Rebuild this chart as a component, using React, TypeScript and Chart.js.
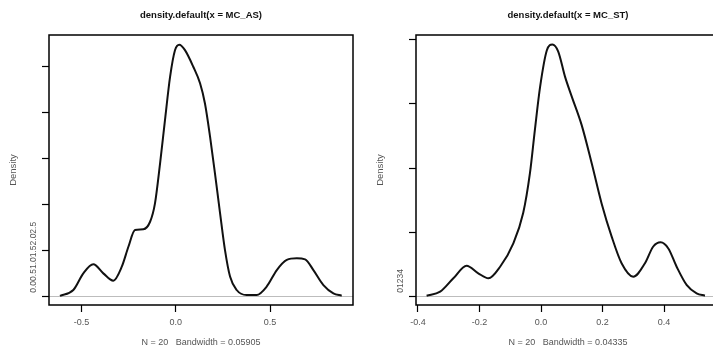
import React, { useEffect, useRef } from "react";
import { Chart, registerables } from "chart.js";

Chart.register(...registerables);

const FONT = '"Liberation Sans", Arial, Helvetica, sans-serif';

// ---- Panel 1: density of MC_AS ----
const asTitle = "density.default(x = MC_AS)";
const asXTitle = "N = 20   Bandwidth = 0.05905";
const asX = [-0.614, -0.543, -0.49, -0.437, -0.384, -0.331, -0.286, -0.251, -0.216, -0.172, -0.136, -0.11, -0.083, -0.057, -0.03, -0.004, 0.019, 0.049, 0.093, 0.129, 0.155, 0.182, 0.208, 0.235, 0.261, 0.288, 0.323, 0.376, 0.429, 0.482, 0.536, 0.589, 0.642, 0.686, 0.73, 0.783, 0.836, 0.88];
const asY = [0.01, 0.073, 0.254, 0.352, 0.254, 0.174, 0.326, 0.543, 0.725, 0.733, 0.815, 1.015, 1.45, 1.92, 2.39, 2.68, 2.74, 2.68, 2.5, 2.32, 2.1, 1.74, 1.34, 0.91, 0.51, 0.22, 0.073, 0.018, 0.018, 0.109, 0.29, 0.4, 0.417, 0.406, 0.29, 0.127, 0.037, 0.011];
const asXTicks = [-0.5, 0, 0.5];
const asXTickLabels = ["-0.5", "0.0", "0.5"];
const asYTicks = [0, 0.5, 1, 1.5, 2, 2.5];
const asYTickLabels = ["0.0", "0.5", "1.0", "1.5", "2.0", "2.5"];
const asXRange = [-0.672, 0.94];
const asYRange = [-0.09, 2.845];

// ---- Panel 2: density of MC_ST ----
const stTitle = "density.default(x = MC_ST)";
const stXTitle = "N = 20   Bandwidth = 0.04335";
const stX = [-0.372, -0.328, -0.285, -0.242, -0.204, -0.171, -0.133, -0.09, -0.058, -0.036, -0.02, -0.003, 0.019, 0.037, 0.056, 0.078, 0.1, 0.132, 0.165, 0.197, 0.23, 0.262, 0.3, 0.338, 0.365, 0.389, 0.414, 0.441, 0.474, 0.506, 0.533];
const stY = [0.016, 0.078, 0.286, 0.482, 0.364, 0.286, 0.466, 0.83, 1.3, 1.92, 2.59, 3.26, 3.83, 3.92, 3.81, 3.42, 3.11, 2.67, 2.07, 1.45, 0.93, 0.52, 0.31, 0.52, 0.78, 0.845, 0.75, 0.466, 0.18, 0.053, 0.016];
const stXTicks = [-0.4, -0.2, 0, 0.2, 0.4];
const stXTickLabels = ["-0.4", "-0.2", "0.0", "0.2", "0.4"];
const stYTicks = [0, 1, 2, 3, 4];
const stYTickLabels = ["0", "1", "2", "3", "4"];
const stXRange = [-0.4065, 0.582];
const stYRange = [-0.129, 4.067];

type PanelProps = {
  left: number;
  width: number;
  yAxisWidth: number;
  padRight: number;
  yTitlePad: number;
  title: string;
  xTitle: string;
  xs: number[];
  ys: number[];
  xTicks: number[];
  xTickLabels: string[];
  yTicks: number[];
  yTickLabels: string[];
  xRange: number[];
  yRange: number[];
};

function labelFor(v: number, ticks: number[], labels: string[]) {
  const i = ticks.findIndex((t) => Math.abs(t - v) < 1e-9);
  return i >= 0 ? labels[i] : "";
}

function Panel(p: PanelProps) {
  const ref = useRef<HTMLCanvasElement | null>(null);
  useEffect(() => {
    if (!ref.current) return;
    const boxPlugin = {
      id: "rbox",
      afterDraw(chart: any) {
        const { ctx, chartArea: a } = chart;
        ctx.save();
        ctx.strokeStyle = "#000";
        ctx.lineWidth = 1.5;
        ctx.strokeRect(a.left, a.top, a.right - a.left, a.bottom - a.top);
        ctx.restore();
      },
    };
    const stackedYLabels = {
      id: "stackedY",
      afterDraw(chart: any) {
        const y = chart.scales.y;
        const { ctx } = chart;
        const py = y.getPixelForValue(p.yTicks[0]);
        ctx.save();
        ctx.translate(y.right - 15, py - 4);
        ctx.rotate(-Math.PI / 2);
        ctx.font = `8.5px ${FONT}`;
        ctx.fillStyle = "#555";
        ctx.textAlign = "left";
        ctx.textBaseline = "middle";
        ctx.fillText(p.yTickLabels.join(""), 0, 0);
        ctx.restore();
      },
    };
    const chart = new Chart(ref.current, {
      type: "line",
      data: {
        datasets: [
          {
            data: p.xs.map((x, i) => ({ x, y: p.ys[i] })),
            borderColor: "#111",
            borderWidth: 2,
            pointRadius: 0,
            fill: false,
            cubicInterpolationMode: "monotone",
          },
        ],
      },
      options: {
        responsive: false,
        animation: false,
        devicePixelRatio: 1,
        layout: { padding: { left: 0, right: p.padRight, top: 0, bottom: 0 } },
        plugins: {
          legend: { display: false },
          tooltip: { enabled: false },
          title: {
            display: true,
            text: p.title,
            fullSize: false,
            color: "#111",
            font: { family: FONT, size: 9.5, weight: "bold" },
            padding: { top: 9.3, bottom: 14.3 },
          },
        },
        scales: {
          x: {
            type: "linear",
            min: p.xRange[0],
            max: p.xRange[1],
            afterBuildTicks: (s: any) => {
              s.ticks = p.xTicks.map((v) => ({ value: v }));
            },
            afterFit: (s: any) => {
              s.height = 51;
            },
            ticks: {
              autoSkip: false,
              maxRotation: 0,
              padding: 5.6,
              color: "#555",
              font: { family: FONT, size: 9 },
              callback: (v: any) => labelFor(Number(v), p.xTicks, p.xTickLabels),
            },
            grid: {
              drawOnChartArea: false,
              drawTicks: true,
              tickLength: 7,
              tickColor: "#000",
              tickWidth: 1.2,
            },
            border: { display: false },
            title: {
              display: true,
              text: p.xTitle,
              color: "#555",
              font: { family: FONT, size: 9 },
              padding: { top: 0, bottom: 8.5 },
            },
          },
          y: {
            type: "linear",
            min: p.yRange[0],
            max: p.yRange[1],
            afterBuildTicks: (s: any) => {
              s.ticks = p.yTicks.map((v) => ({ value: v }));
            },
            afterFit: (s: any) => {
              s.width = p.yAxisWidth;
            },
            ticks: { display: false },
            grid: {
              drawOnChartArea: true,
              drawTicks: true,
              tickLength: 7,
              tickColor: "#000",
              tickWidth: 1.2,
              lineWidth: 1,
              color: (c: any) =>
                c.tick && Math.abs(c.tick.value) < 1e-9 ? "#bdbdbd" : "rgba(0,0,0,0)",
            },
            border: { display: false },
            title: {
              display: true,
              text: "Density",
              color: "#555",
              font: { family: FONT, size: 9.5 },
              padding: { top: p.yTitlePad, bottom: 0 },
            },
          },
        },
      } as any,
      plugins: [boxPlugin, stackedYLabels],
    });
    return () => chart.destroy();
  }, []);
  return (
    <canvas
      ref={ref}
      width={p.width}
      height={356}
      style={{ position: "absolute", left: p.left, top: 0, width: p.width, height: 356, display: "block" }}
    />
  );
}

export default function App() {
  return (
    <div
      style={{
        position: "absolute",
        left: 0,
        top: 0,
        width: 713,
        height: 356,
        overflow: "hidden",
        background: "#fff",
      }}
    >
      <Panel
        left={0}
        width={360}
        yAxisWidth={49}
        padRight={7}
        yTitlePad={7.3}
        title={asTitle}
        xTitle={asXTitle}
        xs={asX}
        ys={asY}
        xTicks={asXTicks}
        xTickLabels={asXTickLabels}
        yTicks={asYTicks}
        yTickLabels={asYTickLabels}
        xRange={asXRange}
        yRange={asYRange}
      />
      <Panel
        left={360}
        width={360}
        yAxisWidth={56}
        padRight={0}
        yTitlePad={14.3}
        title={stTitle}
        xTitle={stXTitle}
        xs={stX}
        ys={stY}
        xTicks={stXTicks}
        xTickLabels={stXTickLabels}
        yTicks={stYTicks}
        yTickLabels={stYTickLabels}
        xRange={stXRange}
        yRange={stYRange}
      />
    </div>
  );
}
